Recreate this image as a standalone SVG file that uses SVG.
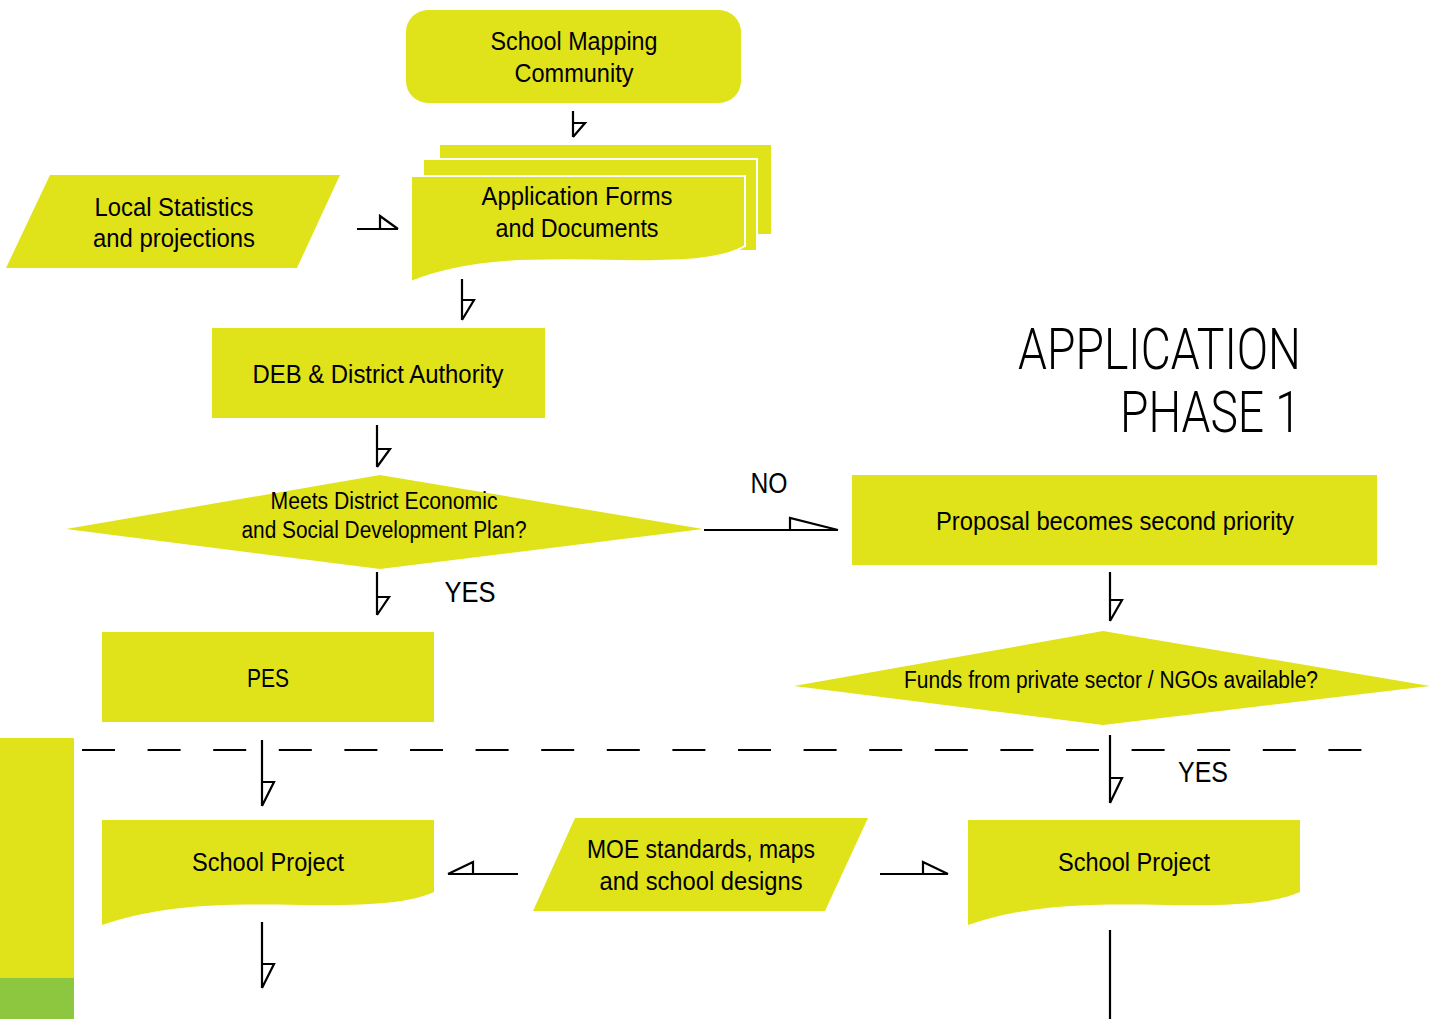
<svg xmlns="http://www.w3.org/2000/svg" width="1436" height="1019" viewBox="0 0 1436 1019">
<style>
.n{fill:#e1e31a}
.w{fill:#e1e31a;stroke:#fff;stroke-width:2}
.t{font-family:"Liberation Sans",Arial,sans-serif;font-size:26px;fill:#000;text-anchor:middle}
.s{font-size:23px}
.big{font-family:Roboto,"Liberation Sans",sans-serif;font-weight:300;font-size:58px;fill:#000;text-anchor:end}
.c{fill:none;stroke:#000;stroke-width:2.2;stroke-linejoin:miter}
</style>
<rect width="1436" height="1019" fill="#fff"/>
<g id="side-bar">
<rect x="0" y="738" width="74" height="240" fill="#e1e31a"/>
<rect x="0" y="978" width="74" height="41" fill="#8dc63f"/>
</g>
<g id="phase-divider">
<line x1="82" y1="750" x2="1363" y2="750" stroke="#000" stroke-width="2.2" stroke-dasharray="33 32.6"/>
</g>
<g id="title">
<text class="big" x="1301" y="369" textLength="283" lengthAdjust="spacingAndGlyphs">APPLICATION</text>
<text class="big" x="1301" y="432" textLength="181" lengthAdjust="spacingAndGlyphs">PHASE 1</text>
</g>
<g id="school-mapping">
<rect class="n" x="406" y="10" width="335" height="93" rx="22"/>
<text class="t" x="574" y="50" textLength="167" lengthAdjust="spacingAndGlyphs">School Mapping</text>
<text class="t" x="574" y="82" textLength="119" lengthAdjust="spacingAndGlyphs">Community</text>
</g>
<g id="application-forms">
<rect class="w" x="439" y="144" width="333" height="91"/>
<rect class="w" x="423" y="159" width="334" height="92"/>
<path class="w" d="M411,176 H745 V246 C725,258 690,262 620,261 C540,259 470,258 411,282 Z"/>
<text class="t" x="577" y="205" textLength="191" lengthAdjust="spacingAndGlyphs">Application Forms</text>
<text class="t" x="577" y="237" textLength="163" lengthAdjust="spacingAndGlyphs">and Documents</text>
</g>
<g id="local-statistics">
<polygon class="n" points="50,175 340,175 297,268 6,268"/>
<text class="t" x="174" y="216" textLength="159" lengthAdjust="spacingAndGlyphs">Local Statistics</text>
<text class="t" x="174" y="247" textLength="162" lengthAdjust="spacingAndGlyphs">and projections</text>
</g>
<g id="deb">
<rect class="n" x="212" y="328" width="333" height="90"/>
<text class="t" x="378" y="383" textLength="251" lengthAdjust="spacingAndGlyphs">DEB &amp; District Authority</text>
</g>
<g id="decision-plan">
<polygon class="n" points="66,529 380,475 703,529 380,569"/>
<text class="t s" x="384" y="509" textLength="227" lengthAdjust="spacingAndGlyphs">Meets District Economic</text>
<text class="t s" x="384" y="538" textLength="285" lengthAdjust="spacingAndGlyphs">and Social Development Plan?</text>
</g>
<g id="second-priority">
<rect class="n" x="852" y="475" width="525" height="90"/>
<text class="t" x="1115" y="530" textLength="358" lengthAdjust="spacingAndGlyphs">Proposal becomes second priority</text>
</g>
<g id="pes">
<rect class="n" x="102" y="632" width="332" height="90"/>
<text class="t" x="268" y="687" textLength="42" lengthAdjust="spacingAndGlyphs">PES</text>
</g>
<g id="decision-funds">
<polygon class="n" points="794,686 1103,631 1430,686 1103,725"/>
<text class="t s" x="1111" y="688" textLength="414" lengthAdjust="spacingAndGlyphs">Funds from private sector / NGOs available?</text>
</g>
<g id="school-project-left">
<path class="n" d="M102,820 H434 V892 C410,903 370,906 300,905 C220,903 160,905 102,925 Z"/>
<text class="t" x="268" y="871" textLength="152" lengthAdjust="spacingAndGlyphs">School Project</text>
</g>
<g id="moe-standards">
<polygon class="n" points="575,818 868,818 825,911 533,911"/>
<text class="t" x="701" y="858" textLength="228" lengthAdjust="spacingAndGlyphs">MOE standards, maps</text>
<text class="t" x="701" y="890" textLength="203" lengthAdjust="spacingAndGlyphs">and school designs</text>
</g>
<g id="school-project-right">
<path class="n" d="M968,820 H1300 V892 C1276,903 1236,906 1166,905 C1086,903 1026,905 968,925 Z"/>
<text class="t" x="1134" y="871" textLength="152" lengthAdjust="spacingAndGlyphs">School Project</text>
</g>
<g id="connectors">
<path class="c" d="M573,111 V137 M573,123 H585 L573,137"/>
<path class="c" d="M357,229 H398 M380,229 V216 L398,229"/>
<path class="c" d="M462,279 V320 M462,300 H474 L462,320"/>
<path class="c" d="M377,425 V467 M377,449 H390 L377,467"/>
<path class="c" d="M704,530 H838 M790,530 V518 L838,530"/>
<path class="c" d="M377,572 V615 M377,597 H389 L377,615"/>
<path class="c" d="M1110,572 V621 M1110,600 H1122 L1110,621"/>
<path class="c" d="M262,740 V806 M262,782 H274 L262,806"/>
<path class="c" d="M1110,735 V803 M1110,778 H1122 L1110,803"/>
<path class="c" d="M518,874 H448 M473,874 V862 L448,874"/>
<path class="c" d="M880,874 H948 M923,874 V862 L948,874"/>
<path class="c" d="M262,922 V988 M262,964 H274 L262,988"/>
<path class="c" d="M1110,930 V1019"/>
<text class="t" x="769" y="493" style="font-size:29px" textLength="37" lengthAdjust="spacingAndGlyphs">NO</text>
<text class="t" x="470" y="602" style="font-size:29px" textLength="51" lengthAdjust="spacingAndGlyphs">YES</text>
<text class="t" x="1203" y="782" style="font-size:29px" textLength="50" lengthAdjust="spacingAndGlyphs">YES</text>
</g>
</svg>
